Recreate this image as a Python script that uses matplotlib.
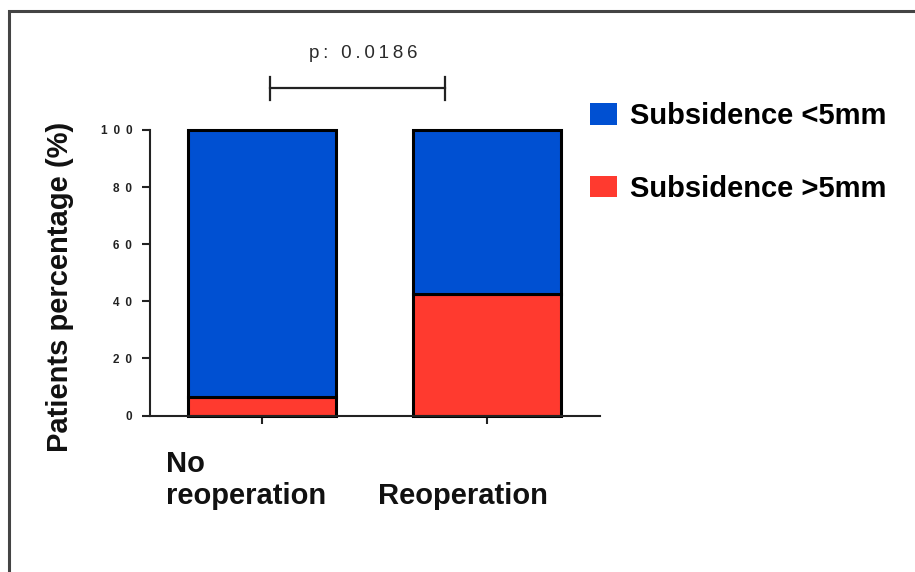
import matplotlib
matplotlib.use("Agg")
import matplotlib.pyplot as plt
from matplotlib.patches import Rectangle, Patch
import numpy as np

# ---------------- data ----------------
categories = ["No\nreoperation", "Reoperation"]
subsidence_gt5 = [6.4, 42.6]          # red, bottom segment (%)
subsidence_lt5 = [93.6, 57.4]         # blue, top segment (%)
series_labels = ["Subsidence <5mm", "Subsidence >5mm"]
yticks = [0, 20, 40, 60, 80, 100]
p_label = "p: 0.0186"
y_label = "Patients percentage (%)"

BLUE = "#0050d2"
RED = "#ff3a2f"

plt.rcParams['font.family'] = ['Liberation Sans', 'DejaVu Sans']


def spaced(s, gap):
    return gap.join(s)


W, H = 915, 572
fig = plt.figure(figsize=(W / 100, H / 100), dpi=100)
ax = fig.add_axes([149.5 / W, 1 - 415.5 / H, 450 / W, 285.5 / H])

x = np.arange(len(categories))
ax.bar(x, subsidence_gt5, width=0.66, color=RED, edgecolor='black',
       linewidth=2.2, zorder=2, clip_on=False)
ax.bar(x, subsidence_lt5, bottom=subsidence_gt5, width=0.66, color=BLUE,
       edgecolor='black', linewidth=2.2, zorder=2, clip_on=False)

ax.set_xlim(-0.5, 1.5)
ax.set_ylim(0, 100)
for s in ['top', 'right']:
    ax.spines[s].set_visible(False)
for s in ['left', 'bottom']:
    ax.spines[s].set_linewidth(1.5)
    ax.spines[s].set_color('#222222')

ax.set_yticks(yticks, labels=[spaced(str(v), "\u2002") for v in yticks])
ax.tick_params(axis='y', length=6, width=1.5, pad=6.5, labelsize=8.5,
               colors='#222222')
for lab in ax.get_yticklabels():
    lab.set_fontweight('bold')

ax.set_xticks(x, labels=[])
ax.tick_params(axis='x', length=6, width=1.5, colors='#222222')

# category labels
label_dx = [-96, -109]
for i, cat in enumerate(categories):
    ax.annotate(cat, xy=(x[i], 0), xycoords=('data', 'axes fraction'),
                xytext=(label_dx[i], -95), textcoords='offset pixels',
                ha='left', va='bottom', fontsize=21, fontweight='bold',
                linespacing=1.2, color='#111111', annotation_clip=False)

ax.set_ylabel(y_label, fontsize=21, fontweight='bold', color='#111111')
ax.yaxis.set_label_coords(-0.168, 0.452)

# significance bracket
bx0, bx1, by, bylo, byhi = 0.0356, 0.813, 114.7, 110.5, 118.6
ax.plot([bx0, bx1], [by, by], color='#222222', lw=1.6, clip_on=False)
ax.plot([bx0, bx0], [bylo, byhi], color='#222222', lw=1.6, clip_on=False)
ax.plot([bx1, bx1], [bylo, byhi], color='#222222', lw=1.6, clip_on=False)
ax.text(0.449, 125.1, spaced(p_label, "\u2009"), ha='center', va='baseline',
        fontsize=13.5, color='#2a2a2a')

# legend
handles = [Patch(facecolor=BLUE, edgecolor=BLUE, lw=0),
           Patch(facecolor=RED, edgecolor=RED, lw=0)]
fs = 21 * 100 / 72
fig.legend(handles, series_labels, loc='upper left',
           bbox_to_anchor=(590 / W, 1 - 102 / H), frameon=False,
           prop={'weight': 'bold', 'size': 21},
           handlelength=27 / fs, handleheight=22 / fs, handletextpad=13 / fs,
           labelspacing=1.54, borderpad=0, borderaxespad=0)

# outer frame
fig.patches.append(Rectangle((9 / W, -0.05), 1.2, (1 - 11 / H) + 0.05,
                             transform=fig.transFigure, fill=False,
                             lw=2.2, edgecolor='#444444'))

fig.savefig('out.png', dpi=100)
